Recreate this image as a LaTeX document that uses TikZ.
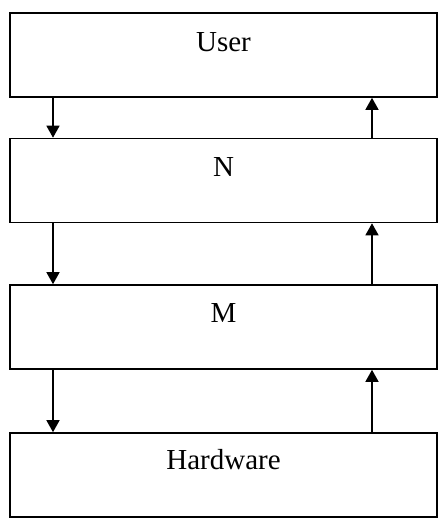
\documentclass[tikz,border=0pt]{standalone}
\usepackage{fontspec}
\setmainfont{Liberation Serif}
\usetikzlibrary{arrows.meta}
\begin{document}
\begin{tikzpicture}[x=1pt,y=-1pt,
  layer/.style={draw, line width=1.6pt, minimum width=427pt, minimum height=84pt, inner sep=0pt},
  arr/.style={line width=1.4pt, -{Triangle[length=12pt,width=13pt]}},
  lbl/.style={font=\fontsize{29}{32}\selectfont}]
\useasboundingbox (0,0) rectangle (438,522);
\node[layer] (u) at (223.5,55) {};
\node[layer] (n) at (223.5,180.5) {};
\node[layer] (m) at (223.5,327) {};
\node[layer] (h) at (223.5,475) {};
\node[lbl] (ut) at (223.5,42) {User};
\node[lbl] (nt) at (223.5,167) {N};
\node[lbl] (mt) at (223.5,313) {M};
\node[lbl] (ht) at (223.5,460) {Hardware};
\coordinate (lx) at (53,0);
\coordinate (rx) at (372,0);
\draw[arr] (u.south -| lx) -- (n.north -| lx);
\draw[arr] (n.south -| lx) -- (m.north -| lx);
\draw[arr] (m.south -| lx) -- (h.north -| lx);
\draw[arr] (n.north -| rx) -- (u.south -| rx);
\draw[arr] (m.north -| rx) -- (n.south -| rx);
\draw[arr] (h.north -| rx) -- (m.south -| rx);
\end{tikzpicture}
\end{document}
